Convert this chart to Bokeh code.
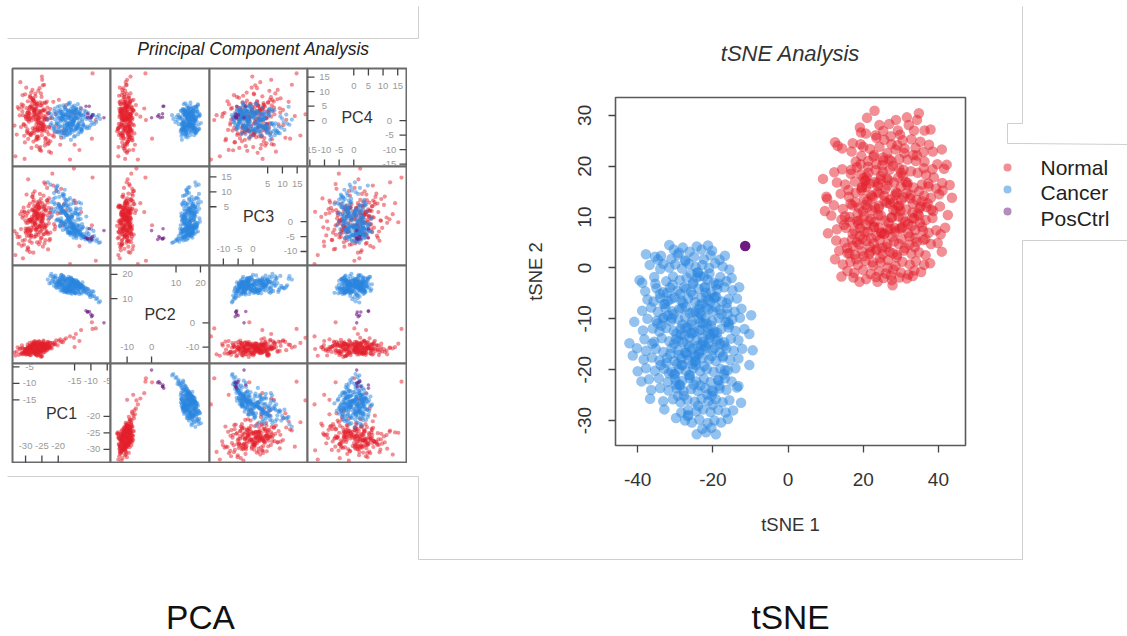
from bokeh.plotting import figure
from bokeh.models import Range1d, FixedTicker
from bokeh.core.properties import value
from bokeh.embed import file_html
from bokeh.resources import INLINE

# ---------- tSNE data ----------
normal_tsne1 = [
 23.0,21.0,34.8,31.6,34.3,28.7,24.3,26.9,32.1,19.1,19.4,20.7,29.2,36.3,37.9,29.8,33.5,
 12.5,13.2,14.4,17.2,23.5,25.6,27.5,30.5,32.8,35.2,37.5,33.9,38.5,20.0,21.8,24.3,26.4,28.6,31.0,40.9,36.0,22.9,19.5,
 18.0,16.8,19.3,21.3,23.5,25.3,27.5,29.6,31.8,34.0,36.3,38.4,39.7,41.5,42.2,41.0,
 12.3,14.4,16.7,19.4,21.4,23.3,25.2,27.0,29.5,30.6,32.7,34.5,36.7,38.8,20.5,
 9.3,13.0,15.2,17.8,19.6,21.8,23.0,24.6,26.4,28.2,30.0,31.8,33.4,35.6,37.4,39.4,41.1,43.0,
 10.2,10.4,14.0,16.2,18.0,20.2,22.0,23.8,25.6,27.2,29.0,30.8,32.6,34.2,36.2,38.0,40.2,43.6,
 9.8,12.2,14.6,16.6,18.8,20.6,22.4,24.2,26.2,28.0,29.6,31.4,33.2,35.0,36.8,38.6,40.4,42.5,
 11.5,14.2,16.4,18.4,20.2,22.0,24.0,25.8,27.6,29.4,31.2,33.0,34.8,36.6,38.4,41.8,
 10.6,13.0,15.4,17.2,19.2,21.2,22.8,24.8,26.6,28.4,30.2,32.0,33.8,35.6,37.4,39.4,40.6,
 12.8,15.0,17.0,19.0,20.8,22.8,24.4,26.4,28.2,30.2,32.2,34.2,36.0,38.0,39.8,
 13.6,15.8,17.8,19.6,21.6,23.4,25.2,27.0,29.0,30.8,32.8,34.8,36.6,40.9,
 12.5,14.6,16.6,18.6,20.6,22.6,24.6,26.6,28.6,30.4,32.4,34.0,36.2,37.8,
 15.8,17.6,20.0,22.0,24.2,26.0,28.0,30.0,32.0,33.6,35.4,
 14.2,17.4,20.8,23.4,25.4,27.4,29.6,31.6,33.2,
 19.0,23.8,27.6,27.8,
 # denser core
 22.7,25.1,18.3,30.9,27.9,33.3,20.9,24.7,36.1,29.3,
 16.1,19.7,26.3,23.9,31.3,21.1,28.7,34.9,17.9,37.3,
 22.3,25.7,19.9,30.1,24.1,27.1,33.1,21.5,35.3,16.5,
 23.1,29.9,18.7,26.7,31.9,20.3,24.9,28.3,38.1,14.9,
 22.1,27.7,19.1,25.5,32.3,17.3,30.3,23.7,35.9,21.7,
 26.1,15.7,28.9,20.1,33.7,24.5,18.1,31.1,22.5,36.5,
 27.3,19.3,25.3,29.1,16.9,23.3,34.3,21.3,30.7,26.9,
 18.5,24.3,28.1,20.7,32.5,15.1,25.9,22.9,37.1,30.5,
 17.1,27.5,23.5,19.7,29.7,33.9,21.9,25.1,35.1,26.5,
 20.5,28.5,24.7,31.7,18.9,23.1,29.3,16.3,27.3,34.5,
 22.5,26.7,20.9,30.1,25.7,19.5,32.9,24.1,28.7,17.7,
 21.1,29.5,23.9,27.9,35.7,18.3,31.5,25.3,20.1,33.5,
]
normal_tsne2 = [
 30.9,29.5,30.4,29.6,29.1,29.1,28.1,28.3,28.1,27.6,26.6,26.4,27.0,27.0,27.2,26.2,27.0,
 24.7,24.0,23.5,24.5,25.6,25.2,24.3,25.1,25.3,24.8,24.2,23.6,22.9,23.8,23.4,23.8,22.6,23.3,23.5,23.3,22.8,22.2,22.0,
 20.9,19.3,20.4,21.0,20.4,21.1,21.0,21.4,21.3,21.0,20.9,19.4,20.4,19.5,20.3,16.7,
 18.8,19.4,18.5,18.4,18.7,19.2,18.9,19.3,19.6,18.0,19.0,18.7,18.3,17.8,17.2,
 17.5,16.8,16.4,17.0,15.9,16.6,16.9,17.4,16.2,16.8,16.0,16.7,15.8,16.4,16.0,15.6,15.2,16.3,
 14.0,13.6,14.6,14.0,14.8,13.6,14.4,14.9,14.2,13.5,14.7,13.9,14.4,13.4,14.2,13.8,14.5,13.8,
 11.2,12.3,11.6,12.6,11.9,12.4,11.3,12.2,12.8,11.4,12.2,11.5,12.6,11.7,12.0,11.2,12.1,10.4,
 10.3,9.5,10.0,9.2,10.2,9.6,10.4,9.3,9.9,10.1,9.1,9.8,10.3,9.4,9.8,7.9,
 6.8,7.6,7.9,6.7,7.8,7.1,8.0,6.9,7.6,7.1,7.8,6.8,7.4,8.1,6.9,7.4,6.6,
 5.4,5.0,5.6,4.6,5.3,4.8,5.5,4.7,5.2,5.7,4.6,5.1,5.5,4.7,4.9,
 3.4,2.9,2.6,3.3,2.8,3.5,2.7,3.2,2.6,3.4,2.8,3.1,2.5,3.2,
 1.7,0.7,1.2,0.6,1.4,0.5,1.1,1.5,0.4,1.2,0.7,1.3,0.6,0.9,
 -0.6,-1.0,-0.4,-1.2,-0.7,-1.1,-0.3,-0.9,-1.3,-0.5,-0.8,
 -1.7,-1.9,-2.2,-1.8,-2.0,-1.5,-1.9,-2.1,-1.6,
 -2.7,-2.7,-2.4,-3.4,
 # denser core
 21.9,20.2,19.8,22.6,20.1,22.2,17.9,18.1,19.6,17.8,
 15.3,15.7,17.6,16.1,16.9,13.1,14.9,15.1,12.9,16.6,
 14.1,13.1,11.1,13.3,11.7,12.6,10.9,9.3,12.1,9.1,
 9.1,11.3,8.7,8.9,8.7,7.1,6.9,7.9,11.5,8.5,
 5.9,6.1,6.3,6.6,6.2,4.3,8.1,3.7,7.3,4.1,
 4.1,3.9,2.1,2.3,4.1,1.9,1.7,3.9,1.1,5.7,
 25.9,24.3,26.9,24.1,22.9,26.1,22.1,19.9,19.3,21.3,
 10.7,14.7,12.9,15.9,13.7,10.1,15.5,8.1,12.7,9.7,
 12.3,9.9,6.3,5.7,7.7,5.9,3.1,3.9,8.9,0.1,
 17.1,14.3,10.3,16.3,9.3,11.9,12.1,2.9,7.7,10.7,
 13.7,17.3,8.5,18.7,6.7,15.3,8.3,7.9,11.1,7.3,
 11.9,4.7,16.7,2.9,13.1,5.1,14.7,21.7,17.7,9.7,
]
cancer_tsne1 = [
 -31.6,-30.4,-28.0,-26.2,-24.3,-21.3,-20.2,-29.0,-23.0,
 -37.8,-35.4,-34.6,-33.8,-31.0,-29.4,-27.4,-25.0,-22.4,-20.6,-18.2,-16.8,
 -36.8,-34.0,-33.2,-31.6,-30.0,-28.2,-26.4,-24.6,-22.8,-21.0,-19.4,-17.4,-15.6,
 -39.5,-38.8,-35.6,-32.4,-30.6,-28.8,-27.0,-25.2,-23.4,-21.4,-19.8,-18.0,-16.4,-15.0,
 -38.0,-35.0,-33.2,-31.4,-29.4,-27.6,-25.8,-23.8,-22.2,-20.4,-18.8,-17.0,-14.8,-13.0,
 -37.4,-35.8,-34.0,-32.0,-30.2,-28.4,-26.6,-24.8,-23.0,-21.2,-19.4,-17.6,-15.8,-13.6,
 -38.8,-36.4,-34.6,-32.6,-30.8,-29.0,-27.2,-25.4,-23.6,-21.8,-20.0,-18.2,-16.2,-14.2,-12.4,
 -40.9,-37.4,-35.0,-33.0,-31.2,-29.2,-27.4,-25.6,-23.8,-22.0,-20.2,-18.4,-16.6,-14.8,-12.8,-9.8,
 -38.6,-36.0,-34.2,-32.4,-30.4,-28.6,-26.8,-25.0,-23.2,-21.4,-19.6,-17.8,-15.8,-14.0,-11.6,
 -42.2,-38.2,-35.6,-33.6,-31.6,-29.8,-28.0,-26.2,-24.4,-22.6,-20.8,-19.0,-17.0,-15.2,-13.2,-10.3,
 -40.2,-37.8,-35.2,-33.2,-31.0,-29.2,-27.4,-25.4,-23.6,-21.8,-20.0,-18.2,-16.4,-14.4,-12.2,-9.4,
 -41.3,-38.4,-36.2,-34.2,-32.2,-30.2,-28.4,-26.6,-24.6,-22.8,-21.0,-19.2,-17.4,-15.4,-13.2,
 -40.0,-37.8,-35.4,-33.0,-31.0,-29.0,-27.2,-25.2,-23.4,-21.6,-19.8,-18.0,-16.0,-14.0,-10.3,
 -39.0,-37.0,-34.4,-32.0,-30.0,-28.2,-26.2,-24.4,-22.4,-20.6,-18.6,-16.8,-15.0,-13.2,
 -36.4,-34.0,-31.8,-29.6,-27.8,-25.8,-24.0,-22.0,-20.2,-18.2,-16.4,-13.6,
 -36.7,-33.2,-30.6,-28.6,-26.8,-24.8,-23.0,-21.2,-19.2,-17.4,-15.6,-12.5,
 -32.9,-28.4,-26.6,-24.4,-22.6,-20.6,-18.6,-16.6,-14.6,
 -29.8,-27.4,-25.6,-23.6,-21.4,-19.6,-17.8,-16.0,
 -24.3,-21.8,-19.2,-22.8,-20.4,
 # denser core
 -27.3,-23.9,-30.7,-20.9,-25.3,-18.5,-33.1,-28.7,-22.1,-16.3,
 -26.1,-31.9,-23.5,-19.1,-28.1,-24.7,-35.3,-21.7,-17.7,-29.7,
 -25.9,-22.7,-30.3,-19.9,-27.1,-33.7,-23.1,-15.9,-29.1,-20.7,
 -24.1,-26.9,-21.1,-32.3,-18.9,-28.3,-23.7,-16.9,-34.7,-25.5,
 -22.3,-30.1,-19.5,-26.3,-24.5,-28.9,-20.3,-31.7,-17.1,-23.3,
 -27.7,-21.5,-25.1,-33.9,-18.3,-29.3,-23.9,-20.1,-36.1,-26.5,
 -22.9,-30.9,-24.3,-19.7,-27.9,-16.1,-25.7,-21.3,-32.7,-28.5,
 -23.1,-18.7,-26.7,-30.5,-20.5,-24.9,-34.1,-22.1,-28.1,-15.7,
 -25.3,-19.3,-27.5,-31.3,-23.5,-21.9,-29.5,-17.3,-26.1,-24.1,
 -20.7,-28.7,-22.5,-25.9,-33.3,-18.1,-27.3,-30.3,-23.3,-16.7,
 -26.7,-21.1,-24.7,-29.9,-19.1,-27.1,-22.7,-32.1,-25.5,-20.3,
 -23.7,-28.3,-18.5,-26.3,-31.1,-21.7,-24.5,-19.9,-29.1,-22.3,
]
cancer_tsne2 = [
 4.5,3.6,4.0,3.2,4.2,4.4,3.4,3.0,3.6,
 2.7,2.2,1.6,2.4,1.8,2.6,1.5,2.2,1.7,2.5,1.6,2.4,
 0.6,-0.2,0.8,0.1,0.7,-0.1,0.8,0.2,0.6,0.0,0.9,0.3,-0.3,
 -2.4,-2.9,-1.8,-2.6,-1.7,-2.4,-1.9,-2.8,-1.6,-2.3,-2.9,-1.8,-2.6,-2.0,
 -4.6,-4.0,-4.8,-3.9,-4.5,-3.8,-4.7,-4.1,-3.9,-4.8,-4.2,-3.8,-4.4,-3.8,
 -6.2,-6.6,-5.9,-6.5,-5.8,-6.4,-6.0,-6.7,-5.9,-6.3,-5.7,-6.6,-6.1,-6.0,
 -8.4,-7.8,-8.6,-7.9,-8.5,-8.1,-7.7,-8.6,-8.0,-7.8,-8.5,-8.2,-7.9,-8.6,-8.0,
 -10.6,-10.0,-10.4,-9.8,-10.5,-10.1,-9.7,-10.6,-10.0,-9.8,-10.4,-9.9,-10.6,-10.1,-9.8,-9.3,
 -12.3,-11.9,-12.5,-11.8,-12.4,-12.0,-11.7,-12.6,-12.1,-11.8,-12.5,-12.0,-11.7,-12.4,-12.0,
 -14.8,-14.0,-14.5,-13.8,-14.4,-14.0,-14.6,-13.7,-14.2,-14.5,-13.8,-14.3,-14.6,-13.9,-14.2,-13.0,
 -15.8,-16.3,-15.9,-16.5,-15.8,-16.2,-16.6,-15.9,-16.4,-15.7,-16.2,-16.6,-15.8,-16.3,-15.9,-16.2,
 -17.2,-18.0,-17.6,-18.2,-17.7,-18.3,-17.8,-18.1,-18.4,-17.7,-18.0,-18.3,-17.6,-18.1,-17.8,
 -20.3,-19.7,-20.2,-19.8,-20.4,-19.9,-20.2,-19.7,-20.3,-19.9,-20.4,-19.8,-20.1,-19.7,-19.1,
 -22.3,-21.9,-21.7,-22.4,-21.9,-22.2,-21.7,-22.3,-21.8,-22.4,-22.0,-21.7,-22.3,-23.2,
 -24.0,-23.6,-24.1,-23.7,-24.2,-23.8,-24.2,-23.6,-24.1,-23.7,-24.0,-23.5,
 -25.7,-26.2,-25.8,-26.4,-25.9,-26.3,-25.7,-26.2,-25.8,-26.4,-26.0,-26.5,
 -27.8,-28.4,-27.9,-28.2,-27.8,-28.3,-27.9,-28.4,-28.0,
 -29.5,-30.0,-30.4,-29.8,-30.5,-30.0,-30.4,-29.7,
 -32.7,-32.3,-32.7,-31.6,-31.4,
 # denser core
 1.3,-0.9,-3.3,-1.1,-5.3,-3.1,-7.1,-5.1,-3.7,-6.9,
 -8.9,-9.3,-7.3,-5.7,-11.1,-8.7,-3.1,-10.9,-9.1,-12.9,
 -12.7,-10.9,-14.9,-12.9,-16.7,-11.3,-15.1,-10.7,-17.1,-13.1,
 -15.3,-17.1,-14.7,-18.7,-12.7,-19.1,-16.9,-15.3,-10.9,-18.9,
 -19.3,-20.9,-15.7,-21.1,-19.1,-22.9,-17.3,-20.7,-20.9,-23.1,
 -25.1,-24.9,-22.9,-19.1,-23.1,-25.1,-27.1,-26.9,-14.9,-28.9,
 -7.1,-9.9,-1.9,-5.9,-6.9,-9.1,-11.1,-12.9,-7.1,-13.1,
 -9.3,-13.9,-15.1,-9.1,-11.3,-17.1,-5.1,-15.3,-19.1,-11.1,
 -3.1,-7.7,-13.3,-16.9,-8.9,-4.9,-18.9,-17.3,-21.1,-0.9,
 -6.7,-23.1,-16.1,-1.1,-9.9,-14.9,-11.7,-20.9,-10.7,-20.1,
 -29.1,-8.1,-18.3,-22.9,-3.3,-4.1,-13.7,-4.9,-12.9,-25.1,
 -12.3,-7.9,-22.1,-15.5,-6.1,-5.7,-17.3,-24.3,-14.3,-1.7,
]
posctrl_tsne1 = [-11.4]
posctrl_tsne2 = [4.3]

# ---------- PCA data ----------
normal_pc1 = [
 -26.3,-29.4,-24.2,-22.7,-30.1,-27.6,-25.4,-23.3,-28.2,-26.8,
 -31.2,-27.1,-24.7,-20.6,-29.1,-26.5,-25.1,-22.2,-28.7,-30.4,
 -25.8,-27.9,-23.6,-19.4,-32.1,-26.1,-28.4,-24.4,-21.5,-29.6,
 -27.3,-25.6,-30.7,-26.7,-23.1,-28.9,-24.9,-31.4,-22.5,-27.7,
 -26.2,-29.9,-25.3,-18.6,-28.1,-24.1,-27.2,-33.1,-23.8,-26.9,
 -29.2,-25.7,-21.1,-27.4,-30.2,-26.4,-24.5,-28.6,-20.2,-25.2,
 -32.4,-27.8,-23.4,-29.3,-26.6,-25.9,-28.3,-22.9,-30.8,-24.6,
 -26.0,-31.6,-27.5,-24.3,-19.8,-28.8,-25.5,-29.7,-23.7,-26.3,
 -27.0,-30.5,-24.8,-21.8,-28.5,-26.7,-32.7,-25.0,-23.2,-29.5,
 -26.1,-28.0,-22.4,-27.9,-25.3,-31.0,-24.0,-30.0,-17.6,-26.5,
 -29.0,-23.5,-27.6,-25.8,-28.3,-26.2,-20.9,-30.3,-24.2,-27.2,
 -25.1,-33.4,-28.7,-26.8,-22.0,-29.8,-24.7,-27.4,-18.2,-31.8,
 -26.4,-25.6,-28.1,-23.9,-30.6,-27.0,-25.2,-29.4,-24.5,-21.3,
 -27.7,-25.9,-31.1,-26.6,-23.0,-28.4,-24.3,-29.2,-26.0,-27.1,
 -25.4,-28.8,-22.8,-30.9,-26.3,-24.9,-27.5,-19.1,-29.6,-25.0,
 -26.9,-16.4,-15.2,-14.6,-13.5,-13.0,-9.7,-9.5,-8.5,-15.0,
 # denser core
 -25.2,-27.4,-23.6,-26.1,-28.3,-24.8,-26.9,-22.9,-29.1,-25.6,
 -27.1,-24.2,-28.7,-26.4,-23.1,-25.9,-27.8,-24.6,-29.4,-26.7,
 -23.9,-28.0,-25.3,-26.2,-27.5,-24.0,-22.4,-28.9,-25.0,-26.6,
 -24.5,-27.2,-29.8,-23.4,-26.0,-25.7,-28.5,-24.1,-27.0,-22.7,
 -26.8,-25.1,-29.3,-23.8,-27.7,-24.4,-26.3,-28.1,-25.5,-30.0,
 -23.3,-27.3,-25.8,-28.6,-24.7,-26.5,-29.0,-24.9,-27.6,-25.4,
]
normal_pc2 = [
 -10.2,-11.9,-8.8,-9.7,-11.1,-9.6,-12.2,-8.1,-10.9,-11.3,
 -12.5,-8.9,-10.4,-7.2,-13.0,-9.3,-11.2,-10.1,-9.4,-12.4,
 -8.7,-11.6,-9.9,-6.8,-13.2,-10.8,-12.6,-8.4,-9.0,-10.5,
 -12.1,-9.2,-10.7,-13.4,-7.8,-11.4,-10.0,-12.9,-8.3,-9.5,
 -11.7,-13.1,-8.6,-8.0,-10.3,-11.0,-12.3,-13.6,-9.1,-7.9,
 -9.8,-11.5,-8.2,-12.7,-12.0,-10.6,-7.7,-13.3,-9.3,-10.9,
 -10.1,-8.8,-11.3,-12.8,-9.7,-7.6,-11.8,-10.2,-13.0,-9.0,
 -12.4,-10.6,-8.5,-11.1,-7.4,-9.9,-13.5,-11.6,-8.9,-10.4,
 -9.4,-12.2,-11.5,-8.3,-10.0,-13.1,-11.9,-8.6,-10.7,-12.6,
 -11.2,-8.1,-9.6,-12.0,-13.8,-10.3,-9.1,-11.7,-6.4,-8.4,
 -12.9,-10.5,-8.7,-11.4,-9.2,-13.3,-8.8,-10.8,-12.1,-7.5,
 -9.7,-12.3,-11.0,-8.2,-10.6,-13.0,-9.5,-12.5,-7.0,-10.9,
 -13.6,-8.0,-11.3,-9.9,-12.7,-10.1,-14.1,-9.0,-7.3,-8.9,
 -10.7,-12.0,-9.3,-11.8,-8.6,-13.4,-10.2,-11.1,-7.8,-12.8,
 -9.4,-8.3,-10.0,-12.2,-11.5,-13.7,-8.1,-7.9,-11.0,-9.6,
 -12.4,-5.6,-6.2,-4.6,-7.5,-3.0,0.2,-2.5,-2.3,-10.0,
 # denser core
 -9.3,-10.8,-10.1,-11.6,-9.9,-8.7,-12.1,-9.5,-11.2,-10.4,
 -11.9,-9.1,-10.6,-8.9,-10.0,-11.4,-9.7,-12.3,-10.9,-9.2,
 -10.5,-9.6,-11.8,-10.2,-8.8,-11.1,-8.4,-10.3,-9.4,-12.0,
 -9.8,-11.3,-10.7,-8.6,-12.4,-9.0,-11.7,-10.1,-9.5,-10.6,
 -11.0,-8.5,-10.4,-11.5,-9.3,-10.9,-9.1,-12.2,-10.3,-11.2,
 -8.9,-10.0,-11.7,-9.6,-10.8,-8.8,-10.5,-11.4,-9.9,-12.6,
]
normal_pc3 = [
 1.2,-3.4,5.1,-6.3,0.4,3.7,-1.1,7.2,-4.6,2.3,
 -8.1,4.4,0.8,10.3,-2.2,6.5,-5.4,1.6,-10.2,3.1,
 -1.7,8.3,-3.1,2.9,-7.4,5.6,0.2,-4.2,12.1,-2.8,
 3.4,-6.7,1.9,4.8,-9.3,0.6,6.2,-2.5,-5.8,9.4,
 2.1,-3.8,7.6,-1.3,-7.1,4.2,-0.3,-11.2,3.6,-4.9,
 14.2,1.4,-2.6,5.3,-6.1,0.9,8.7,-3.3,2.7,-1.9,
 -5.2,3.9,11.3,-8.6,1.1,6.8,-2.1,4.6,-12.3,-0.6,
 -4.4,2.5,7.3,-1.5,5.8,-6.5,0.1,9.1,-3.6,1.7,
 3.2,-7.7,2.2,16.1,-2.9,5.2,-4.1,-0.2,6.4,-9.6,
 -1.2,4.1,-3.7,8.4,-5.6,1.3,12.6,-2.3,3.8,-6.9,
 0.5,7.1,-10.4,2.6,-4.7,5.5,-1.6,3.3,-7.3,10.2,
 1.8,-3.2,6.1,-2.7,4.5,-0.4,-8.4,2.4,5.9,-5.1,
 -3.5,9.3,1.5,-6.2,4.7,0.3,-1.4,2.8,-4.3,-0.8,
 6.6,-7.6,3.5,-2.4,0.7,-5.3,13.2,-9.1,4.3,-1.0,
 2.0,-3.9,7.8,-6.4,1.0,5.0,-2.0,11.0,-4.8,3.0,
 -0.5,-14.2,17.8,6.2,-8.2,3.2,-1.2,14.8,-13.1,7.1,
 # denser core
 0.3,2.2,-1.4,4.0,-2.9,1.0,3.3,-0.6,5.2,-3.5,
 1.7,-1.9,0.6,2.9,-4.1,4.7,-0.2,2.0,-2.4,3.6,
 -1.0,0.9,-3.1,5.8,1.4,-2.0,3.0,-4.6,0.1,2.5,
 4.3,-0.8,1.9,-3.7,2.7,-1.6,0.4,5.5,-2.7,3.1,
 -4.3,1.1,-0.4,3.9,-1.2,2.4,-2.2,0.7,6.4,-3.3,
 2.1,-5.1,4.6,-0.1,1.6,-1.8,3.5,-2.6,0.2,4.9,
]
normal_pc4 = [
 2.1,-4.3,6.2,-2.4,9.1,-7.2,1.3,4.5,-9.4,0.2,
 5.6,-3.1,12.2,-1.6,3.3,-6.4,8.2,-11.1,2.4,-5.2,
 -2.8,7.4,0.6,-8.3,4.1,10.3,-4.6,1.7,6.5,-3.7,
 3.8,-10.2,5.3,-1.1,-6.8,2.6,14.1,-2.2,0.9,7.7,
 -5.4,1.2,9.4,-3.3,4.4,-8.6,3.1,-12.3,6.1,0.4,
 1.6,11.2,-4.1,2.9,-7.5,5.8,-1.3,8.6,-3.9,-10.4,
 4.7,-2.6,0.3,6.7,-5.7,3.4,9.7,-7.8,1.9,-1.9,
 -6.1,13.3,2.2,-3.5,7.2,0.7,-9.1,4.3,-2.1,5.1,
 8.4,-1.4,3.6,-5.1,1.1,6.3,-4.8,15.2,-8.1,2.7,
 0.1,4.9,-7.1,10.6,-2.9,3.2,-6.2,1.5,5.4,-3.4,
 -4.2,6.6,1.4,-9.6,7.9,-2.3,2.3,-13.2,0.5,3.7,
 5.2,-1.7,8.1,-6.6,0.8,11.4,-3.2,4.2,-4.4,1.8,
 -2.5,2.8,6.4,-7.4,-1.2,9.3,-3.6,0.3,3.5,-5.5,
 7.1,-0.7,4.6,-8.8,2.5,-4.9,12.4,-6.3,1.0,5.7,
 -1.8,3.9,-10.7,8.8,0.6,-3.0,6.9,-5.9,2.0,-2.0,
 4.0,-13.4,2.2,1.4,-10.1,4.2,-6.2,16.3,0.2,-8.3,
 # denser core
 -1.1,3.3,0.7,-3.4,5.1,-0.5,2.2,-4.7,1.5,6.3,
 -2.3,0.2,4.6,-5.6,2.9,-1.4,3.7,0.9,-3.0,5.5,
 1.2,-4.2,2.5,-0.8,6.8,-2.7,4.0,0.4,-5.0,3.0,
 -1.6,5.9,0.6,-3.8,2.0,-0.2,-4.9,3.5,1.7,-2.1,
 4.3,-0.9,2.7,-6.0,1.0,3.9,-3.2,0.1,5.3,-1.9,
 2.4,-4.4,0.8,4.8,-2.5,1.4,-0.4,6.0,-3.6,3.2,
]
cancer_pc1 = [
 -16.2,-19.4,-13.7,-21.1,-11.8,-17.3,-14.6,-18.2,-9.9,-15.5,
 -20.3,-12.9,-17.7,-15.1,-22.4,-10.8,-16.6,-18.8,-14.2,-8.1,
 -17.1,-19.7,-15.8,-13.2,-21.6,-16.9,-9.2,-18.4,-14.9,-20.7,
 -15.3,-12.4,-17.5,-19.1,-16.4,-23.2,-13.9,-10.3,-18.1,-15.6,
 -16.7,-20.1,-13.4,-17.9,-11.2,-15.2,-18.6,-21.3,-14.4,-7.2,
 -19.3,-16.1,-12.1,-17.2,-15.7,-20.5,-13.1,-18.3,-9.6,-16.3,
 -14.7,-21.9,-17.4,-15.4,-19.6,-11.5,-16.8,-18.7,-13.6,-22.1,
 -17.8,-15.9,-10.1,-20.2,-14.1,-16.5,-12.7,-19.2,-18.5,-15.1,
 -16.4,-22.7,-13.3,-17.6,-8.4,-15.6,-19.9,-14.5,-11.1,-20.8,
 -18.2,-16.2,-14.8,-12.3,-21.2,-17.3,-15.2,-19.5,-13.8,-16.9,
 -17.7,-10.5,-20.4,-15.7,-18.9,-14.3,-16.1,-12.6,-19.8,-9.4,
 -15.4,-21.5,-17.1,-13.5,-16.6,-18.4,-11.7,-14.6,-20.6,-16.7,
 -19.1,-15.8,-17.5,-13.0,-7.6,-22.2,-16.3,-14.0,-18.6,-12.2,
 -17.2,-20.0,-15.3,-10.7,-16.0,-19.4,-14.4,-18.0,-21.0,-13.7,
 -15.5,-17.9,-12.8,-19.0,-16.5,-11.4,-14.9,-18.1,-9.0,-20.9,
 -16.8,-13.2,-17.0,-15.0,-19.7,-12.0,-14.2,-18.3,-10.2,-16.1,
 # denser core
 -15.1,-17.4,-13.6,-16.2,-18.3,-14.8,-16.9,-12.9,-19.1,-15.6,
 -17.1,-14.2,-18.7,-16.4,-13.1,-15.9,-17.8,-14.6,-19.4,-16.7,
 -13.9,-18.0,-15.3,-16.0,-17.5,-14.0,-12.4,-18.9,-15.0,-16.6,
 -14.5,-17.2,-19.8,-13.4,-16.1,-15.7,-18.5,-14.1,-17.0,-12.7,
 -16.8,-15.2,-19.3,-13.8,-17.7,-14.4,-16.3,-18.1,-15.5,-20.0,
 -13.3,-17.3,-15.8,-18.6,-14.7,-16.5,-19.0,-14.9,-17.6,-15.4,
]
cancer_pc2 = [
 13.4,18.6,16.2,16.8,13.1,18.2,12.2,14.3,11.7,17.6,
 15.7,12.1,17.4,14.6,19.3,13.8,16.9,13.7,15.1,10.2,
 12.8,16.4,17.3,15.2,18.1,14.2,12.9,18.9,12.4,14.9,
 16.7,14.8,13.2,19.6,15.9,17.9,13.6,11.3,15.4,17.2,
 12.3,16.1,15.8,18.4,12.6,13.9,17.1,15.3,16.3,8.9,
 13.3,18.7,14.1,15.6,17.8,14.4,12.7,19.1,13.0,16.6,
 15.5,17.4,12.5,16.4,14.7,14.2,19.0,13.5,11.9,20.2,
 16.8,13.1,12.3,18.2,16.9,15.2,13.9,15.7,17.6,14.3,
 18.1,16.3,14.7,12.9,9.8,17.2,14.6,16.2,14.0,19.5,
 13.4,16.9,12.2,15.1,18.8,14.8,17.7,16.0,12.6,15.4,
 13.7,13.2,15.5,18.0,15.9,14.1,12.4,16.7,17.1,10.9,
 17.0,19.2,13.6,15.3,18.3,12.8,14.5,17.5,16.1,13.3,
 15.8,12.0,17.8,14.9,8.4,16.5,15.6,13.2,19.4,12.7,
 14.4,17.3,16.6,11.8,13.5,18.5,15.0,14.2,16.8,14.6,
 17.6,12.9,15.2,19.8,14.0,12.3,16.4,15.8,11.1,18.6,
 13.8,15.7,18.2,12.5,17.0,13.4,16.3,14.7,10.6,15.1,
 # denser core
 15.3,16.8,14.1,17.2,15.6,13.7,16.1,14.9,17.9,15.0,
 13.4,16.5,18.1,14.4,15.8,13.9,17.4,15.2,16.7,14.6,
 16.3,17.7,12.9,15.5,14.2,16.9,13.6,15.9,17.0,14.8,
 15.1,13.2,16.6,14.3,18.4,15.7,14.7,16.2,13.8,15.4,
 17.3,14.0,15.0,16.4,13.5,17.6,15.9,14.5,16.0,17.1,
 14.9,15.6,13.1,16.7,15.2,14.1,18.0,16.3,13.7,15.8,
]
cancer_pc3 = [
 4.2,-1.3,6.5,5.8,-5.2,-2.1,-4.0,9.1,-2.4,2.3,
 0.7,-5.6,7.4,-3.2,12.4,-6.1,-1.6,3.6,4.1,-5.9,
 -3.8,8.3,1.5,-2.7,3.2,5.1,-3.1,-0.6,0.2,11.3,
 -5.4,-1.8,6.9,1.1,-3.5,13.2,2.6,-6.7,7.7,-2.2,
 1.9,4.8,-4.3,-1.0,-3.6,6.2,-2.8,9.6,-4.8,-6.9,
 -0.4,3.3,-5.0,4.6,-1.5,10.4,0.9,5.6,-6.3,-3.9,
 3.7,2.1,-2.5,7.1,0.3,-4.6,-3.3,8.8,-1.2,6.6,
 -1.7,1.6,-5.8,12.1,-2.9,3.9,-0.8,-0.1,5.2,-4.4,
 7.9,1.2,-3.4,5.4,-6.5,-1.1,9.9,-4.7,-2.3,4.3,
 -0.3,-3.7,2.8,-4.1,6.4,3.1,-2.0,-1.4,0.6,7.3,
 -2.6,-4.9,11.6,1.8,0.1,-3.0,5.9,-1.9,3.5,-5.7,
 -4.2,7.6,-0.9,2.4,-2.1,8.6,-6.0,4.5,0.4,-3.3,
 2.9,-3.2,-0.2,6.1,-7.1,4.0,-4.5,1.3,9.3,-5.1,
 5.7,0.8,-3.6,-4.0,2.2,-1.7,-5.5,10.7,3.4,-1.6,
 -4.1,6.3,-2.4,0.0,-3.9,1.7,3.0,-0.7,-4.8,8.1,
 1.0,4.4,-3.5,-2.7,5.3,-5.3,2.5,-1.3,-6.2,-0.5,
 # denser core
 -1.2,2.1,-3.0,0.4,3.4,-2.2,1.3,-4.4,5.0,-0.7,
 1.8,-3.6,4.1,-1.7,-4.0,0.9,2.7,-2.6,4.6,0.2,
 -3.3,3.0,-0.9,-2.0,2.2,-1.5,-5.1,3.8,-2.8,1.1,
 -3.9,0.6,5.4,-4.2,-0.4,-1.9,3.6,-2.4,1.5,-4.7,
 0.8,-2.1,4.3,-3.4,2.4,-1.0,-0.2,3.2,-1.4,6.0,
 -4.6,1.9,-2.9,2.9,-3.1,-0.6,4.8,-1.8,0.3,-2.3,
]
cancer_pc4 = [
 -2.4,3.1,-1.2,4.2,-2.3,1.4,3.6,-4.4,1.1,0.2,
 1.5,-3.1,-5.0,5.2,-1.4,2.6,3.3,0.6,-1.9,1.3,
 2.8,-3.7,-0.4,4.4,-1.8,-2.2,1.9,5.3,-3.4,2.1,
 1.1,-1.5,-3.6,2.4,6.2,0.4,-4.7,1.4,-0.9,3.4,
 -1.0,-4.1,2.9,4.7,-2.7,-5.5,1.7,-2.4,0.8,0.6,
 3.7,-3.2,2.3,-1.1,4.9,-0.6,-2.9,1.9,-0.7,0.5,
 2.5,1.2,-4.6,-1.7,0.9,3.1,5.6,-2.0,-3.8,-0.8,
 0.3,3.0,-1.6,4.8,-2.6,1.6,-3.5,-5.1,2.2,-0.2,
 -4.3,2.7,1.0,3.9,-0.5,-1.3,0.7,4.1,-2.0,-2.8,
 -3.3,2.0,-5.3,1.8,3.2,-1.5,0.1,5.0,-0.9,3.6,
 1.7,-2.5,-1.0,-3.9,3.0,2.6,-6.6,0.4,-2.2,2.0,
 4.4,-3.0,2.0,-0.3,0.9,-4.2,1.3,-2.8,2.9,-1.3,
 0.1,3.3,-2.7,-4.0,1.9,2.2,-0.6,5.7,1.5,-1.7,
 -4.9,3.4,1.4,0.8,-2.1,-0.3,3.8,-3.2,0.5,2.3,
 -0.7,4.0,-2.9,1.8,-4.5,0.6,2.7,-1.9,-1.2,-3.6,
 6.0,-2.0,0.9,-3.0,2.5,3.5,-1.4,-5.8,0.2,1.1,
 # denser core
 0.5,-1.6,2.4,-2.9,1.2,3.5,-0.9,1.7,-3.8,2.6,
 -2.2,0.8,3.1,-1.3,2.0,-3.2,0.2,4.3,-1.9,1.4,
 3.0,-2.6,-0.4,2.8,-3.5,1.0,-1.1,0.6,3.7,-2.0,
 1.9,-0.7,-3.0,2.2,4.0,-1.5,0.3,-2.4,3.3,-0.2,
 -3.6,2.9,0.9,-1.8,2.5,-2.7,1.6,4.6,-0.5,-1.2,
 3.4,-3.3,0.0,1.5,-2.1,2.7,-4.2,0.7,2.1,-1.0,
]
posctrl_pc1 = [-6, -11.5, -11, -10.5, -10, -9.8, -9.5, -11]
posctrl_pc2 = [0, 5, 4.5, 4.7, 3.5, 2.5, 3, 4.5]
posctrl_pc3 = [-3, -5.5, -5.8, -2.4, -5.5, -6, -5, -5.7]
posctrl_pc4 = [1, 5, 2.4, 5, 1, 1.5, 2, 1.2]

# ---------- labels and ticks ----------
panel_names = ["PC1", "PC2", "PC3", "PC4"]
pc_limits = [(-34, -4), (-16.8, 23.7), (-14.7, 18.5), (-15.8, 18)]
low_ticks = [[-30, -25, -20], [-10, 0], [-10, -5, 0], [-15, -10, -5, 0]]
high_ticks = [[-15, -10, -5], [10, 20], [5, 10, 15], [0, 5, 10, 15]]
legend_labels = ["Normal", "Cancer", "PosCtrl"]
tsne_x_ticks = [-40, -20, 0, 20, 40]
tsne_y_ticks = [-30, -20, -10, 0, 10, 20, 30]

RED, BLUE, PURPLE = "#E31F2B", "#2A85E0", "#6E1A80"
FONT = "Liberation Sans"
PAGE_W, PAGE_H = 1127, 636

def place(left, top):
    return {"position": "absolute", "left": f"{left}px", "top": f"{top}px"}

# ---------- background page: rules, headings, legend ----------
bg = figure(width=PAGE_W, height=PAGE_H, x_range=Range1d(0, PAGE_W), y_range=Range1d(PAGE_H, 0),
            x_axis_type=None, y_axis_type=None, toolbar_location=None, output_backend="svg",
            min_border=0, outline_line_color=None, styles=place(0, 0))
bg.grid.visible = False
rule_paths = [
    ([7, 418, 418], [38, 38, 6]),
    ([7, 418, 418, 1022, 1022, 1127], [476, 476, 559, 559, 240, 240]),
    ([1022, 1022, 1007, 1007, 1022, 1127], [6, 123, 123, 143, 143, 144]),
]
for xs, ys in rule_paths:
    bg.line(xs, ys, line_color="#CFCFCF", line_width=1)

def label(fig, x, y, txt, size, color="#222222", style="normal", align="center", angle=0):
    fig.text(x=[x], y=[y], text=[txt], text_font=value(FONT), text_font_size=size, text_color=color,
             text_font_style=style, text_align=align, text_baseline="middle", angle=angle)

label(bg, 253, 48, "Principal Component Analysis", "17.5px", style="italic")
label(bg, 790, 53, "tSNE Analysis", "22px", color="#333333", style="italic")
label(bg, 200, 617, "PCA", "33.5px", color="#111111")
label(bg, 790, 617, "tSNE", "33.5px", color="#111111")
for name, color, my, ty in zip(legend_labels, [RED, BLUE, PURPLE], [167, 189, 211], [167, 192, 218]):
    bg.scatter([1007], [my], size=8, fill_color=color, fill_alpha=0.5, line_color=None)
    label(bg, 1040, ty, name, "21px", align="left")

# ---------- scatter-plot matrix ----------
normal_pca = [normal_pc1, normal_pc2, normal_pc3, normal_pc4]
cancer_pca = [cancer_pc1, cancer_pc2, cancer_pc3, cancer_pc4]
posctrl_pca = [posctrl_pc1, posctrl_pc2, posctrl_pc3, posctrl_pc4]
left_edges = [12, 110, 209, 307, 406]
top_edges = [68, 166, 265, 363, 462]

def tick_marks(p, i, w, h):
    x0, x1 = pc_limits[i]
    ux = (x1 - x0) / w
    uy = (x1 - x0) / h
    TL, OFF = 7, 17
    txt = dict(text_font=value(FONT), text_font_size="9.5px", text_color="#999999",
               text_align="center", text_baseline="middle")
    lo, hi = low_ticks[i], high_ticks[i]
    seg = dict(line_color="#444444", line_width=1.3)
    # bottom and right carry the low ticks, top and left the high ones
    p.segment(lo, [x0] * len(lo), lo, [x0 + TL * uy] * len(lo), **seg)
    p.text(lo, [x0 + OFF * uy] * len(lo), text=[str(t) for t in lo], **txt)
    p.segment([x1] * len(lo), lo, [x1 - TL * ux] * len(lo), lo, **seg)
    p.text([x1 - OFF * ux] * len(lo), lo, text=[str(t) for t in lo], **txt)
    p.segment(hi, [x1] * len(hi), hi, [x1 - TL * uy] * len(hi), **seg)
    p.text(hi, [x1 - OFF * uy] * len(hi), text=[str(t) for t in hi], **txt)
    p.segment([x0] * len(hi), hi, [x0 + TL * ux] * len(hi), hi, **seg)
    p.text([x0 + OFF * ux] * len(hi), hi, text=[str(t) for t in hi], **txt)

panels = []
for r in range(4):
    for c in range(4):
        yi = 3 - r
        w = left_edges[c + 1] - left_edges[c]
        h = top_edges[r + 1] - top_edges[r]
        p = figure(width=w + 2, height=h + 2, min_border=1, x_axis_type=None, y_axis_type=None,
                   x_range=Range1d(*pc_limits[c]), y_range=Range1d(*pc_limits[yi]),
                   toolbar_location=None, output_backend="svg",
                   background_fill_alpha=0, border_fill_alpha=0,
                   outline_line_color="#6A6A6A", outline_line_width=2,
                   styles=place(left_edges[c] - 1, top_edges[r] - 1))
        p.grid.visible = False
        if c == yi:
            tick_marks(p, c, w, h)
            lo, hi = pc_limits[c]
            label(p, (lo + hi) / 2, (lo + hi) / 2, panel_names[c], "16px", color="#333333")
        else:
            n1 = min(map(len, normal_pca))
            n2 = min(map(len, cancer_pca))
            p.scatter(normal_pca[c][:n1], normal_pca[yi][:n1], size=4.2, fill_color=RED, fill_alpha=0.5, line_color=None)
            p.scatter(cancer_pca[c][:n2], cancer_pca[yi][:n2], size=4.2, fill_color=BLUE, fill_alpha=0.5, line_color=None)
            p.scatter(posctrl_pca[c], posctrl_pca[yi], size=3.6, fill_color=PURPLE, fill_alpha=0.6, line_color=None)
        panels.append(p)

# ---------- tSNE ----------
FL, FT, FW, FH = 615, 97, 350, 348
ML, MT, MR, MB = 125, 20, 5, 110
ts = figure(width=ML + FW + MR, height=MT + FH + MB, min_border_left=ML, min_border_top=MT,
            min_border_right=MR, min_border_bottom=MB, x_range=Range1d(-45.9, 47.2), y_range=Range1d(-34.9, 33.5),
            toolbar_location=None, output_backend="svg",
            background_fill_alpha=0, border_fill_alpha=0, outline_line_color="#5A5A5A", outline_line_width=1.6,
            styles=place(FL - ML, FT - MT))
ts.grid.visible = False
ts.xaxis.ticker = FixedTicker(ticks=tsne_x_ticks)
ts.yaxis.ticker = FixedTicker(ticks=tsne_y_ticks)
ts.xaxis.major_label_overrides = {t: str(t) for t in tsne_x_ticks}
ts.yaxis.major_label_overrides = {t: str(t) for t in tsne_y_ticks}
ts.xaxis.axis_label = "tSNE 1"
ts.yaxis.axis_label = "tSNE 2"
ts.yaxis.major_label_orientation = "vertical"
for ax, label_gap, title_gap in ((ts.xaxis[0], 20, 25), (ts.yaxis[0], 17, 30)):
    ax.axis_line_color = None
    ax.minor_tick_line_color = None
    ax.major_tick_in = 0
    ax.major_tick_out = 7
    ax.major_tick_line_color = "#444444"
    ax.major_tick_line_width = 1.3
    ax.major_label_text_font = FONT
    ax.major_label_text_font_size = "19px"
    ax.major_label_text_color = "#333333"
    ax.major_label_standoff = label_gap
    ax.axis_label_text_font = FONT
    ax.axis_label_text_font_size = "18.5px"
    ax.axis_label_text_font_style = "normal"
    ax.axis_label_text_color = "#333333"
    ax.axis_label_standoff = title_gap
n1 = min(len(normal_tsne1), len(normal_tsne2))
n2 = min(len(cancer_tsne1), len(cancer_tsne2))
ts.scatter(normal_tsne1[:n1], normal_tsne2[:n1], size=10.5, fill_color=RED, fill_alpha=0.5, line_color=None)
ts.scatter(cancer_tsne1[:n2], cancer_tsne2[:n2], size=10.5, fill_color=BLUE, fill_alpha=0.5, line_color=None)
ts.scatter(posctrl_tsne1, posctrl_tsne2, size=10.5, fill_color=PURPLE, fill_alpha=1, line_color=None)

page = [bg, ts] + panels
open("out.html", "w").write(file_html(page, INLINE))
